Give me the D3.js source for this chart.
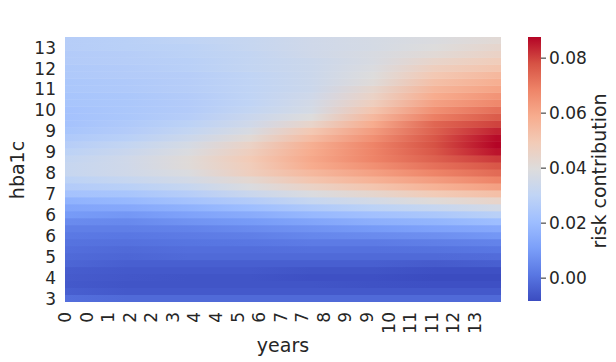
<!DOCTYPE html>
<html>
<head>
<meta charset="utf-8">
<script src="https://cdn.jsdelivr.net/npm/d3@7"></script>
<style>
body { margin: 0; background: #fff; }
svg { display: block; font-family: "DejaVu Sans", sans-serif; }
</style>
</head>
<body>
<svg id="chart" width="616" height="362"></svg>
<script>
// sample columns (years) and rows (hba1c, bottom to top)
var years = [0, 2, 4, 6, 8, 10, 12, 14]
var hba1c = [3.00, 3.27, 3.54, 3.81, 4.08, 4.35, 4.62, 4.89, 5.16, 5.43, 5.70, 5.97, 6.24,
             6.51, 6.78, 7.05, 7.32, 7.59, 7.86, 8.14, 8.41, 8.68, 8.95, 9.22, 9.49, 9.76,
             10.03, 10.30, 10.57, 10.84, 11.11, 11.38, 11.65, 11.92, 12.19, 12.46, 12.73, 13.00]

// risk contribution, one row per hba1c value (bottom first), one column per year
var risk = [
    [-0.0008, -0.0018, -0.0018, -0.0018, -0.0018, -0.0018, -0.0018, -0.0018],
    [-0.0042, -0.0056, -0.0056, -0.0056, -0.0056, -0.0056, -0.0056, -0.0056],
    [-0.0056, -0.0066, -0.0066, -0.0066, -0.0066, -0.0071, -0.0075, -0.0075],
    [-0.0051, -0.0061, -0.0066, -0.0066, -0.0075, -0.0075, -0.0085, -0.0085],
    [-0.0047, -0.0056, -0.0056, -0.0056, -0.0066, -0.0066, -0.0075, -0.0075],
    [-0.0027, -0.0042, -0.0042, -0.0042, -0.0042, -0.0042, -0.0051, -0.0042],
    [-0.0018, -0.0027, -0.0018, -0.0018, -0.0018, -0.0018, -0.0018, -0.0013],
    [-0.0008, -0.0018, -0.0008, -0.0008, -0.0003, -0.0003, 0.0001, 0.0011],
    [0.0001, -0.0003, 0.0006, 0.0011, 0.0021, 0.0021, 0.0030, 0.0040],
    [0.0016, 0.0011, 0.0021, 0.0030, 0.0049, 0.0059, 0.0069, 0.0088],
    [0.0030, 0.0030, 0.0040, 0.0059, 0.0078, 0.0097, 0.0117, 0.0136],
    [0.0059, 0.0054, 0.0078, 0.0097, 0.0126, 0.0155, 0.0174, 0.0203],
    [0.0097, 0.0088, 0.0117, 0.0145, 0.0184, 0.0213, 0.0241, 0.0280],
    [0.0126, 0.0136, 0.0165, 0.0203, 0.0251, 0.0289, 0.0318, 0.0357],
    [0.0165, 0.0184, 0.0222, 0.0261, 0.0318, 0.0357, 0.0405, 0.0443],
    [0.0222, 0.0232, 0.0270, 0.0328, 0.0385, 0.0433, 0.0491, 0.0529],
    [0.0261, 0.0280, 0.0318, 0.0385, 0.0453, 0.0510, 0.0568, 0.0616],
    [0.0289, 0.0318, 0.0357, 0.0424, 0.0510, 0.0568, 0.0625, 0.0683],
    [0.0318, 0.0347, 0.0385, 0.0472, 0.0549, 0.0616, 0.0683, 0.0731],
    [0.0318, 0.0347, 0.0405, 0.0481, 0.0587, 0.0654, 0.0721, 0.0769],
    [0.0309, 0.0347, 0.0405, 0.0491, 0.0597, 0.0683, 0.0750, 0.0808],
    [0.0289, 0.0328, 0.0385, 0.0472, 0.0587, 0.0683, 0.0769, 0.0856],
    [0.0270, 0.0309, 0.0366, 0.0453, 0.0577, 0.0683, 0.0779, 0.0875],
    [0.0251, 0.0280, 0.0337, 0.0414, 0.0539, 0.0654, 0.0769, 0.0866],
    [0.0232, 0.0261, 0.0309, 0.0376, 0.0501, 0.0625, 0.0750, 0.0837],
    [0.0222, 0.0251, 0.0289, 0.0347, 0.0443, 0.0587, 0.0741, 0.0798],
    [0.0222, 0.0241, 0.0270, 0.0328, 0.0395, 0.0549, 0.0693, 0.0760],
    [0.0222, 0.0241, 0.0261, 0.0309, 0.0366, 0.0510, 0.0654, 0.0721],
    [0.0232, 0.0241, 0.0261, 0.0299, 0.0357, 0.0472, 0.0616, 0.0673],
    [0.0232, 0.0241, 0.0261, 0.0299, 0.0347, 0.0453, 0.0587, 0.0645],
    [0.0241, 0.0251, 0.0270, 0.0299, 0.0337, 0.0433, 0.0558, 0.0606],
    [0.0241, 0.0251, 0.0270, 0.0299, 0.0337, 0.0405, 0.0529, 0.0577],
    [0.0251, 0.0261, 0.0270, 0.0299, 0.0337, 0.0395, 0.0501, 0.0549],
    [0.0251, 0.0261, 0.0280, 0.0309, 0.0337, 0.0385, 0.0472, 0.0510],
    [0.0261, 0.0270, 0.0280, 0.0309, 0.0337, 0.0376, 0.0443, 0.0481],
    [0.0261, 0.0270, 0.0289, 0.0309, 0.0347, 0.0376, 0.0414, 0.0453],
    [0.0270, 0.0280, 0.0289, 0.0318, 0.0347, 0.0366, 0.0395, 0.0433],
    [0.0270, 0.0280, 0.0299, 0.0318, 0.0347, 0.0366, 0.0385, 0.0414]
]

var xTickYears = [0, 0.7, 1.4, 2.1, 2.8, 3.5, 4.2, 4.9, 5.6, 6.3, 7.0, 7.7, 8.4, 9.1, 9.8, 10.5, 11.2, 11.9, 12.6, 13.3]
var xTickLabels = ['0', '0', '1', '2', '2', '3', '4', '4', '5', '6', '7', '7', '8', '9', '9', '10', '11', '11', '12', '13']
// labels sit on every third row, bottom to top
var yTickLabels = ['3', '4', '5', '6', '6', '7', '8', '9', '9', '10', '11', '12', '13']
var cbarTicks = [0, 0.02, 0.04, 0.06, 0.08]

var coolwarm = ['#3b4cc0', '#5977e3', '#7b9ff9', '#9ebeff', '#c0d4f5', '#dddcdc',
                '#f2cbb7', '#f7ac8e', '#ee8468', '#d65244', '#b40426']
var colorDomain = [-0.0085, 0.0875]

var svg = d3.select('#chart')
var textColor = '#262626'

var plot = {left: 65, right: 501, top: 37, bottom: 302}

var x = d3.scaleLinear()
    .domain([0, 14.15])
    .range([plot.left, plot.right])

var y = d3.scaleBand()
    .domain(d3.range(hba1c.length))
    .range([plot.bottom, plot.top])

var color = d3.scaleLinear()
    .domain(coolwarm.map((c, i) => colorDomain[0] + (colorDomain[1] - colorDomain[0]) * i / (coolwarm.length - 1)))
    .range(coolwarm)
    .clamp(true)

var defs = svg.append('defs')

// one horizontal gradient per hba1c row
var x0 = x(years[0]), x1 = x(years[years.length - 1])
risk.forEach(function(row, j) {
    var grad = defs.append('linearGradient')
        .attr('id', 'row-' + j)
        .attr('gradientUnits', 'userSpaceOnUse')
        .attr('x1', x0).attr('x2', x1)
        .attr('y1', 0).attr('y2', 0)
    row.forEach(function(v, i) {
        grad.append('stop')
            .attr('offset', (x(years[i]) - x0) / (x1 - x0))
            .attr('stop-color', color(v))
    })
})

svg.append('g')
    .selectAll('rect')
    .data(risk)
    .join('rect')
    .attr('x', plot.left)
    .attr('width', plot.right - plot.left)
    .attr('y', (d, j) => y(j) - (j < risk.length - 1 ? 0.5 : 0))
    .attr('height', (d, j) => y.bandwidth() + (j < risk.length - 1 ? 0.5 : 0))
    .attr('fill', (d, j) => 'url(#row-' + j + ')')

// x tick labels (rotated)
svg.append('g')
    .selectAll('text')
    .data(xTickYears)
    .join('text')
    .attr('transform', d => 'translate(' + (x(d) + 6) + ',312) rotate(-90)')
    .attr('text-anchor', 'end')
    .attr('font-size', 17)
    .attr('fill', textColor)
    .text((d, i) => xTickLabels[i])

// y tick labels
svg.append('g')
    .selectAll('text')
    .data(yTickLabels)
    .join('text')
    .attr('x', 56)
    .attr('y', (d, i) => y(i * 3) + y.bandwidth() / 2)
    .attr('dy', '0.36em')
    .attr('text-anchor', 'end')
    .attr('font-size', 17)
    .attr('fill', textColor)
    .text(d => d)

svg.append('text')
    .attr('x', 283)
    .attr('y', 352)
    .attr('text-anchor', 'middle')
    .attr('font-size', 19)
    .attr('fill', textColor)
    .text('years')

svg.append('text')
    .attr('transform', 'translate(24,170) rotate(-90)')
    .attr('text-anchor', 'middle')
    .attr('font-size', 19)
    .attr('fill', textColor)
    .text('hba1c')

// colorbar
var cbar = {x: 528, width: 13, top: 37, bottom: 301}
var cy = d3.scaleLinear()
    .domain(colorDomain)
    .range([cbar.bottom, cbar.top])

var cgrad = defs.append('linearGradient')
    .attr('id', 'cbar-grad')
    .attr('x1', 0).attr('x2', 0)
    .attr('y1', 1).attr('y2', 0)
cgrad.selectAll('stop')
    .data(color.domain())
    .join('stop')
    .attr('offset', d => (d - colorDomain[0]) / (colorDomain[1] - colorDomain[0]))
    .attr('stop-color', d => color(d))

svg.append('rect')
    .attr('x', cbar.x)
    .attr('y', cbar.top)
    .attr('width', cbar.width)
    .attr('height', cbar.bottom - cbar.top)
    .attr('fill', 'url(#cbar-grad)')

var caxis = svg.append('g')
    .attr('transform', 'translate(' + (cbar.x + cbar.width) + ',0)')
    .call(d3.axisRight(cy).tickValues(cbarTicks).tickFormat(d3.format('.2f')).tickSize(5).tickPadding(3))
caxis.select('.domain').remove()
caxis.selectAll('line').attr('stroke', textColor).attr('stroke-width', 1)
caxis.selectAll('text')
    .attr('font-size', 17)
    .attr('font-family', '"DejaVu Sans", sans-serif')
    .attr('fill', textColor)

svg.append('text')
    .attr('transform', 'translate(606,171) rotate(-90)')
    .attr('text-anchor', 'middle')
    .attr('font-size', 19)
    .attr('fill', textColor)
    .text('risk contribution')
</script>
</body>
</html>
